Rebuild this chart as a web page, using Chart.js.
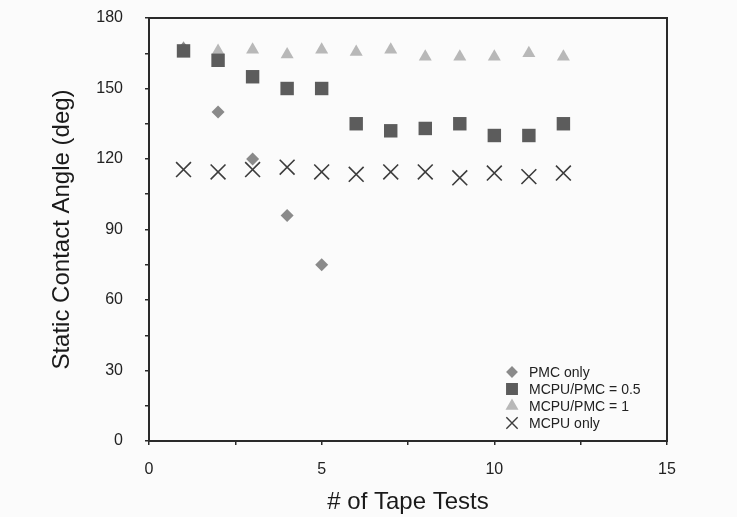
<!DOCTYPE html>
<html>
<head>
<meta charset="utf-8">
<script src="https://cdn.jsdelivr.net/npm/chart.js@4/dist/chart.umd.min.js"></script>
<style>
  html, body { margin: 0; padding: 0; background: #fbfbfb; }
  #wrap { width: 737px; height: 517px; }
</style>
</head>
<body>
<div id="wrap"><canvas id="chart" width="737" height="517"></canvas></div>
<script>
const tapeTests = [1, 2, 3, 4, 5, 6, 7, 8, 9, 10, 11, 12];

const pmcOnly = [167, 140, 120, 96, 75];
const mcpuPmcHalf = [166, 162, 155, 150, 150, 135, 132, 133, 135, 130, 130, 135];
const mcpuPmcOne = [167, 166, 166.5, 164.5, 166.5, 165.5, 166.5, 163.5, 163.5, 163.5, 165, 163.5];
const mcpuOnly = [115.5, 114.5, 115.5, 116.5, 114.5, 113.5, 114.5, 114.5, 112, 114, 112.5, 114];

const seriesNames = ['PMC only', 'MCPU/PMC = 0.5', 'MCPU/PMC = 1', 'MCPU only'];
const xTicks = [0, 5, 10, 15];
const yTicks = [0, 30, 60, 90, 120, 150, 180];

const FONT = 'Liberation Sans, Arial, Helvetica, sans-serif';
const AXIS = '#2a2a2a';

function pts(values) {
  return values.map((v, i) => ({ x: tapeTests[i], y: v }));
}

const styles = [
  { pointStyle: 'rectRot', radius: 6.5, color: '#8a8a8a', order: 2, lr: 4.5 },
  { pointStyle: 'rect', radius: 9.5, color: '#5c5c5c', order: 0, lr: 7 },
  { pointStyle: 'triangle', radius: 7.5, color: '#b8b8b8', order: 3, lr: 5.5 },
  { pointStyle: 'crossRot', radius: 10.5, color: '#3c3c3c', order: 1, lr: 8 }
];
const seriesData = [pmcOnly, mcpuPmcHalf, mcpuPmcOne, mcpuOnly];

const datasets = seriesData.map((vals, i) => ({
  label: seriesNames[i],
  data: pts(vals),
  pointStyle: styles[i].pointStyle,
  pointRadius: styles[i].radius,
  pointHoverRadius: styles[i].radius,
  backgroundColor: styles[i].color,
  borderColor: styles[i].color,
  borderWidth: styles[i].pointStyle === 'crossRot' ? 1.6 : 0,
  order: styles[i].order
}));

// frame around the plot + legend inside, bottom right
const framePlugin = {
  id: 'frame',
  afterDatasetsDraw(chart) {
    const { ctx, chartArea: a } = chart;
    ctx.save();
    ctx.strokeStyle = AXIS;
    ctx.lineWidth = 2;
    ctx.strokeRect(a.left, a.top, a.right - a.left, a.bottom - a.top);

    ctx.font = '14px ' + FONT;
    ctx.textBaseline = 'middle';
    const lx = 512, tx = 529, y0 = 372, dy = 17;
    seriesNames.forEach((name, i) => {
      const y = y0 + i * dy;
      ctx.fillStyle = styles[i].color;
      ctx.strokeStyle = styles[i].color;
      ctx.lineWidth = styles[i].pointStyle === 'crossRot' ? 1.4 : 0;
      Chart.helpers.drawPoint(ctx, { pointStyle: styles[i].pointStyle, radius: styles[i].lr, borderWidth: ctx.lineWidth }, lx, y);
      ctx.fillStyle = '#222';
      ctx.fillText(name, tx, y + 1);
    });
    ctx.restore();
  }
};

new Chart(document.getElementById('chart'), {
  type: 'scatter',
  data: { datasets },
  options: {
    responsive: false,
    animation: false,
    events: [],
    layout: { padding: { left: 0, right: 70, top: 18, bottom: 0 } },
    plugins: {
      legend: { display: false },
      tooltip: { enabled: false }
    },
    scales: {
      x: {
        type: 'linear',
        min: 0,
        max: 15,
        afterBuildTicks: s => {
          const t = [];
          for (let v = 0; v <= 15; v += 2.5) t.push({ value: v });
          s.ticks = t;
        },
        afterFit: s => { s.height = 76; },
        ticks: {
          callback: v => (xTicks.includes(v) ? String(v) : ''),
          color: '#222',
          font: { family: FONT, size: 16 },
          padding: 15,
          maxRotation: 0,
          autoSkip: false
        },
        grid: { drawOnChartArea: false, drawTicks: true, tickLength: 4, color: AXIS, lineWidth: 1.5 },
        border: { display: true, color: AXIS, width: 2 },
        title: {
          display: true,
          text: '# of Tape Tests',
          color: '#1a1a1a',
          font: { family: FONT, size: 24 },
          padding: { top: 0, bottom: 0 }
        }
      },
      y: {
        type: 'linear',
        min: 0,
        max: 180,
        afterBuildTicks: s => {
          const t = [];
          for (let v = 0; v <= 180; v += 15) t.push({ value: v });
          s.ticks = t;
        },
        afterFit: s => {
          s.width = 149;
          s.paddingTop = 0;
          s.paddingBottom = 0;
        },
        ticks: {
          callback: v => (yTicks.includes(v) ? String(v) : ''),
          color: '#222',
          font: { family: FONT, size: 16 },
          padding: 22,
          autoSkip: false
        },
        grid: { drawOnChartArea: false, drawTicks: true, tickLength: 4, color: AXIS, lineWidth: 1.5 },
        border: { display: true, color: AXIS, width: 2 },
        title: {
          display: true,
          text: 'Static Contact Angle (deg)',
          color: '#1a1a1a',
          font: { family: FONT, size: 24 },
          padding: { top: 48, bottom: 0 }
        }
      }
    }
  },
  plugins: [framePlugin]
});
</script>
</body>
</html>
